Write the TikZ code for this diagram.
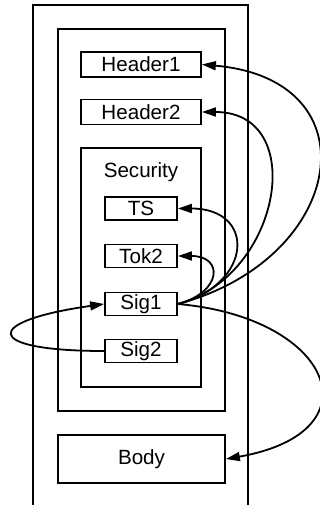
\documentclass[tikz,border=0pt]{standalone}
\usepackage{fontspec}
\setmainfont{Liberation Sans}
\usetikzlibrary{arrows.meta, positioning}

\begin{document}
\begin{tikzpicture}[
		x=0.5pt, y=0.5pt,
		every node/.style={font=\fontsize{10.3}{12}\selectfont, inner sep=0pt},
		frame/.style={draw, line width=0.9pt},
		box/.style={frame, minimum width=60pt, minimum height=12.5pt},
		small box/.style={frame, minimum width=36pt, minimum height=11.5pt},
		arrow/.style={-{Triangle[length=7pt, width=4.5pt]}, line width=0.9pt}
		]
		\useasboundingbox (0,0) rectangle (320,505);
		
		% Envelope
		\draw[line width=0.9pt] (33,0) -- (33,500) -- (248,500) -- (248,0);
		
		% Nodes
		\node[frame, minimum width=83.5pt, minimum height=191pt] (hdr) at (141.5,285) {};
		\node[box] (head1) at (141,440.5) {Header1};
		\node[box] (head2) at (141,393) {Header2};
		\node[frame, minimum width=60pt, minimum height=119.5pt] (sec) at (141,237.5) {};
		\node (seclbl) at (141,333) {Security};
		\node[small box] (ts) at (141,296.5) {TS};
		\node[small box] (tok2) at (141,249) {Tok2};
		\node[small box] (sig1) at (141,201) {Sig1};
		\node[small box] (sig2) at (141,154) {Sig2};
		\node[frame, minimum width=83.5pt, minimum height=24pt] (body) at (141.5,46) {Body};
		
		% References of Sig1
		\draw[arrow] (sig1.east) to[out=15, in=0, looseness=2.1] (ts.east);
		\draw[arrow] (sig1.east) to[out=15, in=0, looseness=2.45] (tok2.east);
		\draw[arrow] (sig1.east) to[out=15, in=0, looseness=1.42] (head2.east);
		\draw[arrow] (sig1.east) to[out=15, in=-5, looseness=1.85] (head1.east);
		\draw[arrow] (sig1.east) to[out=-5, in=10, looseness=2.45] (body.east);
		
		% Sig2 signs Sig1
		\draw[arrow] (sig2.west) to[out=180, in=188, looseness=6.7] (sig1.west);
		
	\end{tikzpicture}
\end{document}
